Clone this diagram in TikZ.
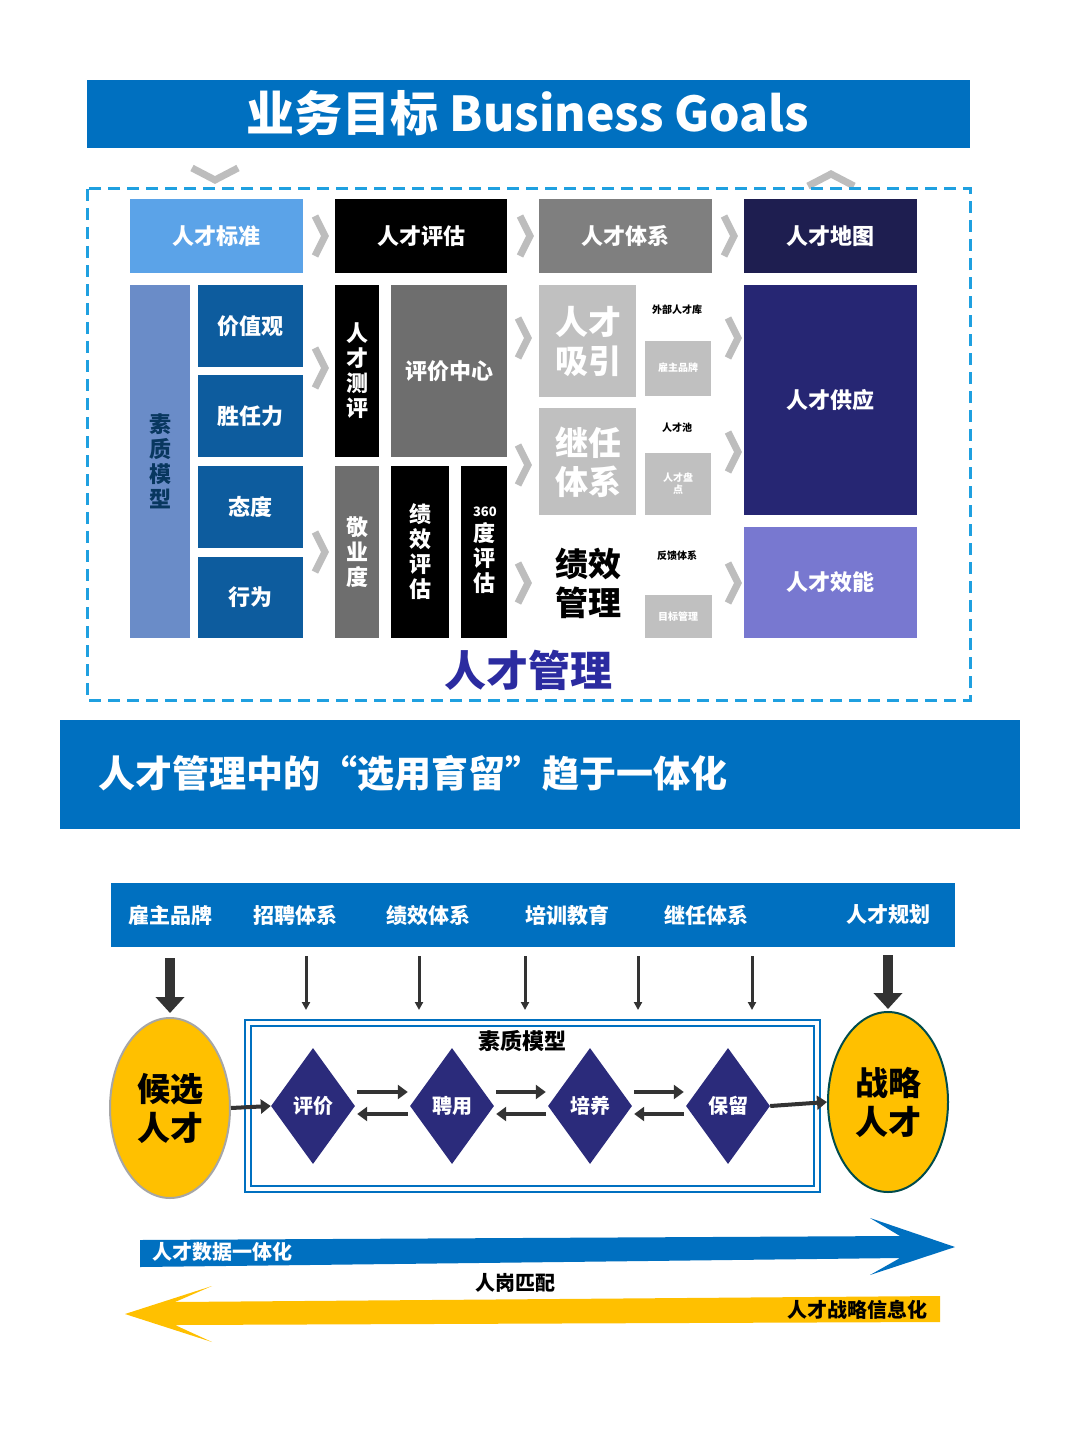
\documentclass[tikz,border=0pt]{standalone}
\usepackage{fontspec}
\setmainfont{Noto Sans CJK SC}
\usetikzlibrary{shapes.geometric,arrows.meta}
\definecolor{bblue}{HTML}{0070C0}
\definecolor{lblue}{HTML}{5BA3E8}
\definecolor{dblue}{HTML}{0D5C9E}
\definecolor{sblue}{HTML}{6A8CC8}
\definecolor{navy}{HTML}{262673}
\definecolor{dnavy}{HTML}{1E1E50}
\definecolor{violet}{HTML}{7878D0}
\definecolor{mgray}{HTML}{7F7F7F}
\definecolor{dgray}{HTML}{6E6E6E}
\definecolor{lgray}{HTML}{C0C0C0}
\definecolor{chev}{HTML}{BDBDBD}
\definecolor{dia}{HTML}{2B2B7B}
\definecolor{gold}{HTML}{FFC000}
\definecolor{tnavy}{HTML}{2B2BA0}
\definecolor{dashblue}{HTML}{1FA0E0}
\tikzset{
 bx/.style={inner sep=0pt,font=\bfseries\fontsize{22}{25}\selectfont,text=white,align=center},
 vt/.style={bx,text width=22pt},
 chevr/.style={chev,line width=7pt},
 tiny/.style={font=\bfseries\fontsize{10}{12}\selectfont,align=center},
 dm/.style={diamond,fill=dia,minimum width=84pt,minimum height=116pt,inner sep=0pt,text=white,font=\bfseries\fontsize{20}{22}\selectfont},
 thk/.style={-{Triangle[length=10pt,width=14pt]},line width=4pt,black!80},
 thn/.style={-{Triangle[length=8pt,width=8pt]},line width=3pt,black!80},
 huge/.style={-{Triangle[length=16pt,width=28pt]},line width=10pt,black!80},
}
\newcommand{\bb}[6]{\fill[#5] (#1,#2) rectangle (#3,#4); \node[bx] at ({(#1+#3)/2},{(#2+#4)/2}) {#6};}
\newcommand{\chv}[2]{\draw[chevr] (#1-5,#2-20) -- (#1+5,#2) -- (#1-5,#2+20);}
\begin{document}
\begin{tikzpicture}[x=1pt,y=-1pt]
\useasboundingbox (0,0) rectangle (1080,1439);
\fill[white] (0,0) rectangle (1080,1439);
% title
\fill[bblue] (87,80) rectangle (970,148);
\node[text=white,font=\bfseries\fontsize{48}{52}\selectfont] (title) at (528,113) {业务目标 Business Goals};
\draw[chev,line width=7pt] (192,168) -- (215,180) -- (238,168);
\draw[chev,line width=7pt] (808,186) -- (831,174) -- (854,186);
\draw[dashblue,line width=3pt,dash pattern=on 12pt off 7pt] (87,189) rectangle (970,700);
% row headers
\bb{130}{199}{303}{273}{lblue}{人才标准}
\bb{335}{199}{507}{273}{black}{人才评估}
\bb{539}{199}{712}{273}{mgray}{人才体系}
\bb{744}{199}{917}{273}{dnavy}{人才地图}
\chv{320}{236}\chv{525}{236}\chv{729}{236}
% col1
\fill[sblue] (130,285) rectangle (190,638);
\node[vt,text=dblue!60!black] at (160,461) {素\\质\\模\\型};
\bb{198}{285}{303}{367}{dblue}{价值观}
\bb{198}{375}{303}{457}{dblue}{胜任力}
\bb{198}{466}{303}{548}{dblue}{态度}
\bb{198}{557}{303}{638}{dblue}{行为}
\chv{320}{368}\chv{320}{552}
% col2
\fill[black] (335,285) rectangle (379,457); \node[vt] at (357,371) {人\\才\\测\\评};
\bb{391}{285}{507}{457}{dgray}{评价中心}
\fill[dgray] (335,466) rectangle (379,638); \node[vt] at (357,552) {敬\\业\\度};
\fill[black] (391,466) rectangle (449,638); \node[vt] at (420,552) {绩\\效\\评\\估};
\fill[black] (461,466) rectangle (507,638); \node[vt] at (484,550) {{\fontsize{13}{15}\selectfont 360}\\度\\评\\估};
\chv{523}{338}\chv{523}{465}\chv{523}{583}
% col3
\fill[lgray] (539,285) rectangle (636,397); \node[bx,font=\bfseries\fontsize{33}{39}\selectfont] at (588,341) {人才\\吸引};
\node[tiny] at (677,310) {外部人才库};
\fill[lgray] (645,341) rectangle (711,396); \node[tiny,text=white] at (678,368) {雇主品牌};
\fill[lgray] (539,408) rectangle (636,515); \node[bx,font=\bfseries\fontsize{33}{39}\selectfont] at (588,462) {继任\\体系};
\node[tiny] at (677,428) {人才池};
\fill[lgray] (645,453) rectangle (711,515); \node[tiny,text=white] at (678,484) {人才盘\\点};
\node[bx,text=black,font=\bfseries\fontsize{33}{39}\selectfont] at (588,583) {绩效\\管理};
\node[tiny] at (677,556) {反馈体系};
\fill[lgray] (645,595) rectangle (712,638); \node[tiny,text=white] at (678,617) {目标管理};
\chv{733}{338}\chv{733}{452}\chv{733}{583}
% col4
\bb{744}{285}{917}{515}{navy}{人才供应}
\bb{744}{527}{917}{638}{violet}{人才效能}
\node[text=tnavy,font=\bfseries\fontsize{42}{46}\selectfont] at (528,670) {人才管理};
% second bar
\fill[bblue] (60,720) rectangle (1020,829);
\node[anchor=west,text=white,font=\bfseries\fontsize{37}{40}\selectfont] at (95,773) {人才管理中的“选用育留”趋于一体化};
% bar3
\fill[bblue] (111,883) rectangle (955,947);
\foreach \x/\t/\n in {170/雇主品牌/h1,295/招聘体系/h2,428/绩效体系/h3,567/培训教育/h4,706/继任体系/h5,888/人才规划/h6}
 \node[text=white,font=\bfseries\fontsize{21}{23}\selectfont] (\n) at (\x,915) {\t};
\draw[huge] (170,958) -- (170,1013);
\draw[huge] (888,955) -- (888,1009);
\foreach \x in {306,419,525,638,752} \draw[thn] (\x,956) -- (\x,1010);
% ellipses
\node[ellipse,fill=gold,draw=black!35,line width=2pt,minimum width=120pt,minimum height=180pt,font=\bfseries\fontsize{33}{39}\selectfont,align=center,inner sep=0pt] (hx) at (170,1108) {候选\\人才};
\node[ellipse,fill=gold,draw=teal!60!black,line width=2pt,minimum width=120pt,minimum height=180pt,font=\bfseries\fontsize{33}{39}\selectfont,align=center,inner sep=0pt] (zl) at (888,1102) {战略\\人才};
% frame
\draw[bblue,line width=2pt] (245,1020) rectangle (820,1192);
\draw[bblue,line width=2pt] (251,1026) rectangle (814,1186);
\node[font=\bfseries\fontsize{22}{24}\selectfont] at (522,1041) {素质模型};
\node[dm] (d1) at (313,1106) {评价};
\node[dm] (d2) at (452,1106) {聘用};
\node[dm] (d3) at (590,1106) {培养};
\node[dm] (d4) at (728,1106) {保留};
\draw[thk] (hx.east) -- (d1.west);
\draw[thk] (d4.east) -- (zl.west);
\foreach \a/\b in {d1/d2,d2/d3,d3/d4}{
 \draw[thk] ([xshift=2pt,yshift=14pt]\a.east) -- ([xshift=-2pt,yshift=14pt]\b.west);
 \draw[thk] ([xshift=-2pt,yshift=-8pt]\b.west) -- ([xshift=2pt,yshift=-8pt]\a.east);
}
% bottom arrows
\fill[bblue] (140,1240) -- (900,1236) -- (870,1218) -- (955,1247) -- (870,1275) -- (900,1258) -- (140,1267) -- cycle;
\node[text=white,font=\bfseries\fontsize{20}{22}\selectfont] at (222,1252) {人才数据一体化};
\node[font=\bfseries\fontsize{20}{22}\selectfont] at (515,1283) {人岗匹配};
\fill[gold] (940,1296) -- (175,1302) -- (212,1286) -- (125,1314) -- (212,1342) -- (175,1325) -- (940,1322) -- cycle;
\node[font=\bfseries\fontsize{20}{22}\selectfont] at (857,1310) {人才战略信息化};
\end{tikzpicture}
\end{document}
